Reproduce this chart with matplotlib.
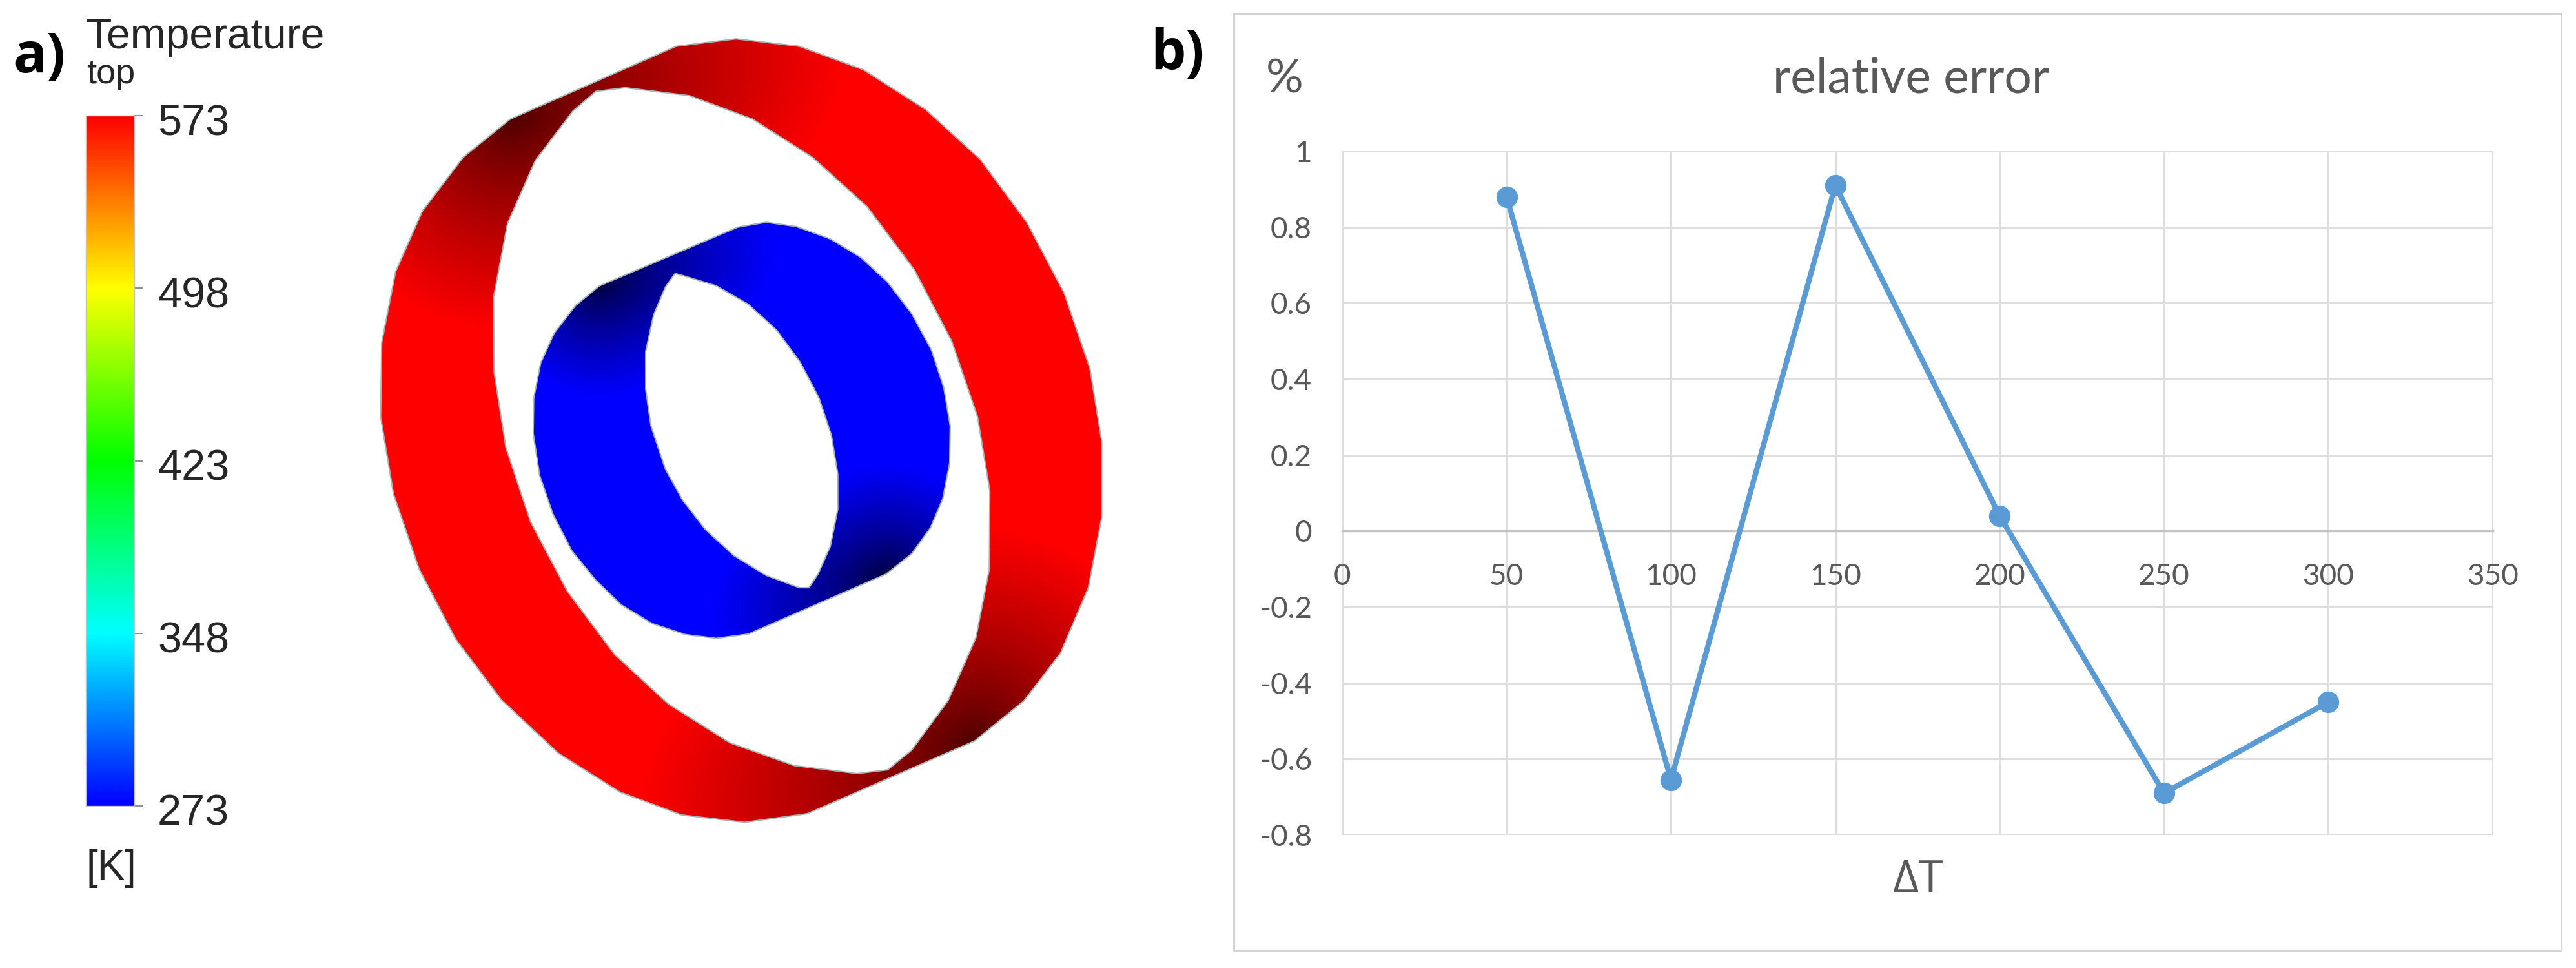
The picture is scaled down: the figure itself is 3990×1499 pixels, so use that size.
import numpy as np
import matplotlib
matplotlib.use("Agg")
import matplotlib.pyplot as plt
from matplotlib.colors import LinearSegmentedColormap
from matplotlib.patches import PathPatch, Rectangle
from matplotlib.path import Path
from matplotlib.transforms import ScaledTranslation

W, H = 3990, 1499

# panel b data
delta_t = [50, 100, 150, 200, 250, 300]
rel_error = [0.88, -0.655, 0.91, 0.04, -0.69, -0.45]
x_ticks = [0, 50, 100, 150, 200, 250, 300, 350]
y_ticks = [-0.8, -0.6, -0.4, -0.2, 0, 0.2, 0.4, 0.6, 0.8, 1]
y_tick_labels = ["-0.8", "-0.6", "-0.4", "-0.2", "0", "0.2", "0.4", "0.6", "0.8", "1"]

# panel a legend
temp_ticks = [273, 348, 423, 498, 573]
temp_colors = ["#0000ff", "#00ffff", "#00ff00", "#ffff00", "#ff0000"]

red_outer = [(660,75),(772,63),(890,75),(1010,113),(1127,178),(1228,258),(1315,360),(1385,475),
             (1433,597),(1455,715),(1455,838),(1430,952),(1378,1058),(1310,1135),(1218,1200),
             (905,1318),(788,1332),(670,1320),(555,1283),(440,1220),(333,1133),(248,1035),
             (180,922),(132,800),(108,675),(110,555),(136,440),(186,342),(262,255),(350,193)]
red_hole = [(510,148),(565,142),(685,155),(803,193),(915,255),(1017,335),(1105,437),(1175,553),
            (1223,675),(1246,795),(1245,922),(1220,1033),(1168,1135),(1100,1215),(1055,1247),
            (998,1253),(880,1240),(760,1203),(645,1140),(545,1060),(457,958),(388,845),
            (342,725),(320,603),(319,482),(345,362),(397,260),(467,180)]
blue_outer = [(775,368),(828,360),(885,367),(948,387),(1005,417),(1055,457),(1100,508),(1137,567),
              (1160,628),(1172,690),(1171,750),(1158,808),(1135,855),(1100,897),(1052,930),
              (795,1027),(735,1034),(678,1028),(615,1010),(558,980),(510,940),(465,892),
              (430,833),(405,770),(393,702),(394,645),(407,588),(432,540),(472,495),(517,463)]
blue_hole = [(658,443),(675,447),(735,463),(795,493),(848,535),(892,587),(927,645),(950,705),
             (962,768),(962,825),(948,885),(925,930),(908,952),(890,952),(828,932),(768,900),
             (715,858),(672,810),(640,760),(613,690),(603,630),(603,570),(618,510),(640,465)]


def to_px(pts):
    pts = np.array(pts, dtype=float)
    return np.column_stack([500 + pts[:, 0] / 1.206, pts[:, 1] / 1.046])


def ax_px(fig, x0, y0, x1, y1):
    # axes from pixel box, y measured from the top
    return fig.add_axes([x0 / W, 1 - y1 / H, (x1 - x0) / W, (y1 - y0) / H])


def tip_distance(xx, yy, tip, ux, uy):
    # distance from a tip, stretched along the cylinder edge leaving it
    dx, dy = xx - tip[0], yy - tip[1]
    along = dx * ux + dy * uy
    perp = -dx * uy + dy * ux
    along = np.where(along > 0, along * 0.6, along)
    return np.hypot(along, perp)


def draw_ring(ax, outer, hole, color, radius, floor):
    outer, hole = to_px(outer), to_px(hole)[::-1]
    verts = np.vstack([outer, outer[:1], hole, hole[:1]])
    codes = ([Path.MOVETO] + [Path.LINETO] * (len(outer) - 1) + [Path.CLOSEPOLY]
             + [Path.MOVETO] + [Path.LINETO] * (len(hole) - 1) + [Path.CLOSEPOLY])
    path = Path(verts, codes)

    x0, y0 = verts.min(axis=0) - 2
    x1, y1 = verts.max(axis=0) + 2
    xx, yy = np.meshgrid(np.arange(x0, x1, 2.0), np.arange(y0, y1, 2.0))
    d = np.minimum(tip_distance(xx, yy, outer[29], 0.93, -0.36),
                   tip_distance(xx, yy, outer[14], -0.93, 0.36))
    shade = floor + (1 - floor) * np.clip(d / radius, 0, 1) ** 0.8
    img = shade[..., None] * np.array(color)
    im = ax.imshow(img, extent=(x0, x1, y1, y0), aspect="auto", interpolation="bilinear", zorder=2)
    patch = PathPatch(path, facecolor="none", edgecolor="#a8b4b4", lw=1.5, zorder=3)
    ax.add_patch(patch)
    im.set_clip_path(patch)


fig = plt.figure(figsize=(W / 100, H / 100), dpi=100, facecolor="white")

# full figure layer for the rings, frame and loose text
bg = fig.add_axes([0, 0, 1, 1])
draw_ring(bg, red_outer, red_hole, (1, 0, 0), 330, 0.3)
draw_ring(bg, blue_outer, blue_hole, (0, 0, 1), 170, 0.25)
bg.set_xlim(0, W)
bg.set_ylim(H, 0)
bg.axis("off")

bg.add_patch(Rectangle((1911, 21), 2056, 1451, facecolor="none", edgecolor="#d4d4d4", lw=2.2))

sans = "Liberation Sans"
chart_font = "Lato"
grey = "#595959"
bg.text(20, 112, "a)", family="Open Sans", weight="bold", fontsize=62, color="black", va="baseline")
bg.text(133, 75, "Temperature", family=sans, fontsize=47.5, color="#262626", va="baseline")
bg.text(134, 129, "top", family=sans, fontsize=39, color="#262626", va="baseline")
bg.text(134, 1362, "[K]", family=sans, fontsize=46, color="#262626", va="baseline")
bg.text(1782, 108, "b)", family="Open Sans", weight="bold", fontsize=62, color="black", va="baseline")
bg.text(1961, 143, "%", family=chart_font, fontsize=52, color=grey, va="baseline")
bg.text(2960, 143, "relative error", family=chart_font, fontsize=54, color=grey, va="baseline", ha="center")
bg.text(2971, 1382, "ΔT", family="Open Sans", fontsize=50, color=grey, va="baseline", ha="center")

# colour bar
cax = ax_px(fig, 133, 179, 208, 1248)
cmap = LinearSegmentedColormap.from_list("rainbow5", temp_colors)
cax.imshow(np.linspace(0, 1, 512)[:, None], origin="lower", aspect="auto", cmap=cmap,
           extent=(0, 1, temp_ticks[0], temp_ticks[-1]))
cax.set_xticks([])
cax.set_yticks(temp_ticks)
cax.set_yticklabels([str(t) for t in temp_ticks], family=sans, fontsize=48, color="#262626")
cax.yaxis.tick_right()
cax.tick_params(axis="y", length=10, width=1.5, color="#909090", pad=16)
for lab in cax.get_yticklabels():
    lab.set_transform(lab.get_transform() + ScaledTranslation(0, -0.06, fig.dpi_scale_trans))
for s in cax.spines.values():
    s.set_color("#c0c0c8")
    s.set_linewidth(1)

# panel b chart
ax = ax_px(fig, 2079, 234, 3861, 1293)
ax.plot(delta_t, rel_error, color="#5b9bd5", lw=6, marker="o", ms=23, clip_on=False, zorder=3)
ax.set_xlim(0, 350)
ax.set_ylim(-0.8, 1)
ax.set_xticks(x_ticks)
ax.set_yticks(y_ticks)
ax.set_yticklabels(y_tick_labels)
ax.grid(True, color="#dedede", lw=2.2)
ax.set_axisbelow(True)
for name in ["top", "right", "left"]:
    ax.spines[name].set_visible(False)
ax.spines["bottom"].set_position(("data", 0))
ax.spines["bottom"].set_color("#c4c4c4")
ax.spines["bottom"].set_linewidth(2.5)
ax.tick_params(axis="both", length=0, labelcolor=grey, labelsize=33)
ax.tick_params(axis="x", pad=36)
ax.tick_params(axis="y", pad=34)
for lab in ax.get_xticklabels() + ax.get_yticklabels():
    lab.set_family(chart_font)

fig.savefig("out.png", dpi=100, facecolor="white")
